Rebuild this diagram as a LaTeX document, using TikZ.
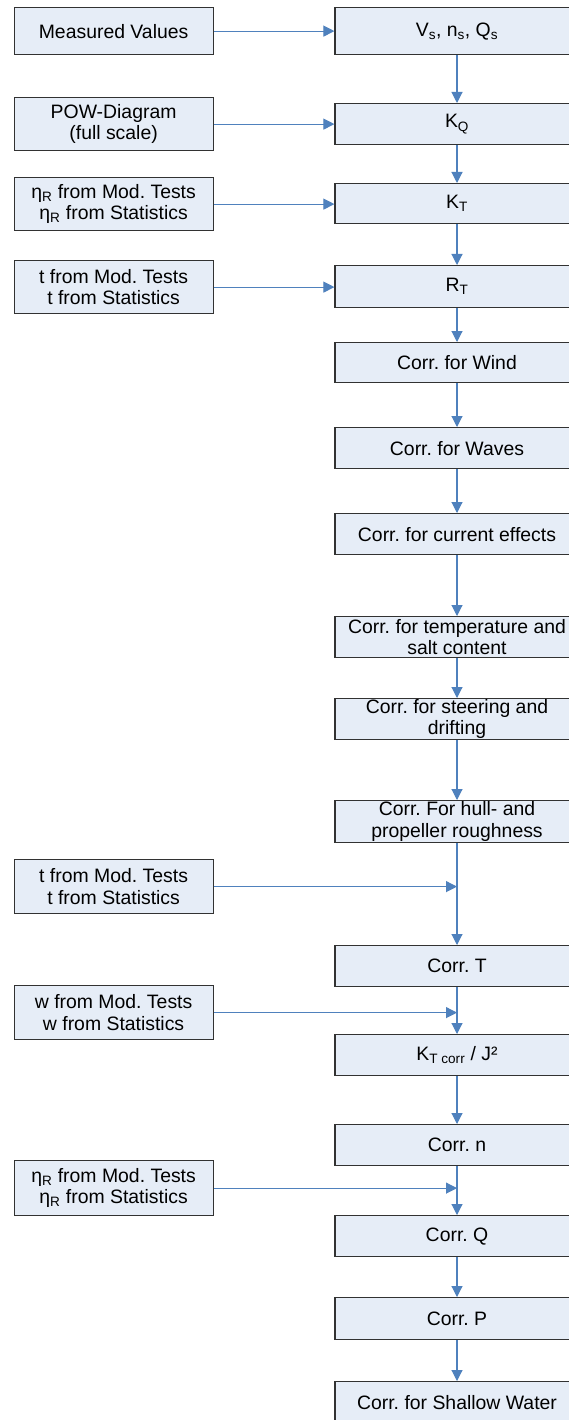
\documentclass[tikz,border=0pt]{standalone}
\usepackage{fontspec}
\setmainfont{Liberation Sans}
\usetikzlibrary{arrows.meta,calc}
\definecolor{boxfill}{RGB}{230,237,247}
\definecolor{arrowblue}{RGB}{79,129,189}
\definecolor{boxline}{RGB}{50,50,50}
\frenchspacing
\begin{document}
\begin{tikzpicture}[x=1pt,y=-1pt,
  box/.style={draw=boxline, line width=1.2pt, fill=boxfill, align=center, inner sep=0pt,
    font=\fontsize{19.4}{21.5}\selectfont},
  leftbox/.style={box, minimum width=199pt, anchor=north west},
  mainbox/.style={box, minimum width=244pt, anchor=north},
  flow/.style={draw=arrowblue, line width=1.1pt, -{Triangle[length=11pt,width=11pt]}}
]
\useasboundingbox (0,0) rectangle (569,1420);
\clip (0,0) rectangle (569,1420);
\fill[white] (0,0) rectangle (569,1420);

% main column
\node[mainbox, minimum height=47pt] (vs) at (457,7) {V\textsubscript{s}, n\textsubscript{s}, Q\textsubscript{s}};
\node[mainbox, minimum height=41pt] (kq) at (457,103) {K\textsubscript{Q}};
\node[mainbox, minimum height=40pt] (kt) at (457,183) {K\textsubscript{T}};
\node[mainbox, minimum height=42pt] (rt) at (457,265) {R\textsubscript{T}};
\node[mainbox, minimum height=40pt] (wind) at (457,342) {Corr. for Wind};
\node[mainbox, minimum height=41pt] (waves) at (457,427) {Corr. for Waves};
\node[mainbox, minimum height=41pt] (current) at (457,513) {Corr. for current effects};
\node[mainbox, minimum height=41pt] (temp) at (457,616) {Corr. for temperature and\\salt content};
\node[mainbox, minimum height=41pt] (steer) at (457,698) {Corr. for steering and\\drifting};
\node[mainbox, minimum height=42pt] (hull) at (457,800) {Corr. For hull- and\\propeller roughness};
\node[mainbox, minimum height=41pt] (corrT) at (457,945) {Corr. T};
\node[mainbox, minimum height=41pt] (ktcorr) at (457,1034) {K\textsubscript{T corr} / J²};
\node[mainbox, minimum height=41pt] (corrn) at (457,1124) {Corr. n};
\node[mainbox, minimum height=41pt] (corrQ) at (457,1215) {Corr. Q};
\node[mainbox, minimum height=42pt] (corrP) at (457,1297) {Corr. P};
\node[mainbox, minimum height=41pt] (shallow) at (457,1381) {Corr. for Shallow Water};

% input boxes
\node[leftbox, minimum height=47pt] (meas) at (13.5,7) {Measured Values};
\node[leftbox, minimum height=53pt] (pow) at (13.5,97) {POW-Diagram\\(full scale)};
\node[leftbox, minimum height=53pt] (eta1) at (13.5,177) {η\textsubscript{R} from Mod. Tests\\η\textsubscript{R} from Statistics};
\node[leftbox, minimum height=53pt] (t1) at (13.5,260) {t from Mod. Tests\\t from Statistics};
\node[leftbox, minimum height=54pt] (t2) at (13.5,859) {t from Mod. Tests\\t from Statistics};
\node[leftbox, minimum height=54pt] (w) at (13.5,985) {w from Mod. Tests\\w from Statistics};
\node[leftbox, minimum height=55pt] (eta2) at (13.5,1160) {η\textsubscript{R} from Mod. Tests\\η\textsubscript{R} from Statistics};

% main flow
\draw[flow] (vs) -- (kq);
\draw[flow] (kq) -- (kt);
\draw[flow] (kt) -- (rt);
\draw[flow] (rt) -- (wind);
\draw[flow] (wind) -- (waves);
\draw[flow] (waves) -- (current);
\draw[flow] (current) -- (temp);
\draw[flow] (temp) -- (steer);
\draw[flow] (steer) -- (hull);
\draw[flow] (hull) -- (corrT);
\draw[flow] (corrT) -- (ktcorr);
\draw[flow] (ktcorr) -- (corrn);
\draw[flow] (corrn) -- (corrQ);
\draw[flow] (corrQ) -- (corrP);
\draw[flow] (corrP) -- (shallow);

% inputs
\draw[flow] (meas.east) -- (meas.east -| vs.west);
\draw[flow] (pow.east) -- (pow.east -| kq.west);
\draw[flow] (eta1.east) -- (eta1.east -| kt.west);
\draw[flow] (t1.east) -- (t1.east -| rt.west);
\coordinate (j1) at (t2.east -| hull.south);
\coordinate (j2) at (w.east -| corrT.south);
\coordinate (j3) at (eta2.east -| corrn.south);
\draw[flow] (t2.east) -- (j1);
\draw[flow] (w.east) -- (j2);
\draw[flow] (eta2.east) -- (j3);
\end{tikzpicture}
\end{document}
